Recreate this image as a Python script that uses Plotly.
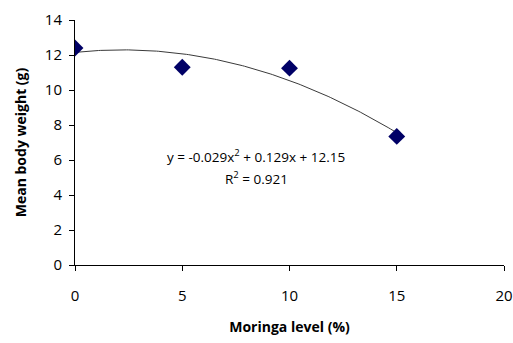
import numpy as np
import plotly.graph_objects as go

moringa_level = [0, 5, 10, 15]
body_weight = [12.4, 11.3, 11.25, 7.35]
trend_coeffs = [-0.029, 0.129, 12.15]
x_ticks = [0, 5, 10, 15, 20]
y_ticks = [0, 2, 4, 6, 8, 10, 12, 14]

xs = np.linspace(0, 15, 151)
ys = np.polyval(trend_coeffs, xs)

font = "Open Sans, Liberation Sans, sans-serif"

fig = go.Figure()
fig.add_trace(go.Scatter(x=xs, y=ys, mode="lines",
                         line=dict(color="#3a3a3a", width=1), showlegend=False))
fig.add_trace(go.Scatter(x=moringa_level, y=body_weight, mode="markers",
                         marker=dict(symbol="diamond", size=13, color="#000066"),
                         showlegend=False))

fig.add_annotation(x=8.45, y=6.25, text="y = -0.029x<sup>2</sup> + 0.129x + 12.15",
                   showarrow=False, font=dict(family=font, size=13.5, color="#000"))
fig.add_annotation(x=8.45, y=4.97, text="R<sup>2</sup> = 0.921",
                   showarrow=False, font=dict(family=font, size=13.5, color="#000"))

fig.update_layout(
    width=513, height=343,
    margin=dict(l=75, r=9, t=20, b=78),
    plot_bgcolor="white", paper_bgcolor="white",
    font=dict(family=font, size=15, color="#000"),
)
fig.update_xaxes(range=[0, 20], tickvals=x_ticks, showgrid=False, zeroline=False,
                 showline=True, linecolor="#000", linewidth=1,
                 ticks="outside", ticklen=5, tickcolor="#000",
                 ticklabelstandoff=12, automargin=False,
                 title=dict(text="<b>Moringa level (%)</b>", font=dict(size=14), standoff=18))
fig.update_yaxes(range=[0, 14], tickvals=y_ticks, showgrid=False, zeroline=False,
                 showline=True, linecolor="#000", linewidth=1,
                 ticks="outside", ticklen=5, tickcolor="#000",
                 ticklabelstandoff=4, automargin=False,
                 title=dict(text="<b>Mean body weight (g)</b>", font=dict(size=14), standoff=14))

fig.write_html("out.html")
